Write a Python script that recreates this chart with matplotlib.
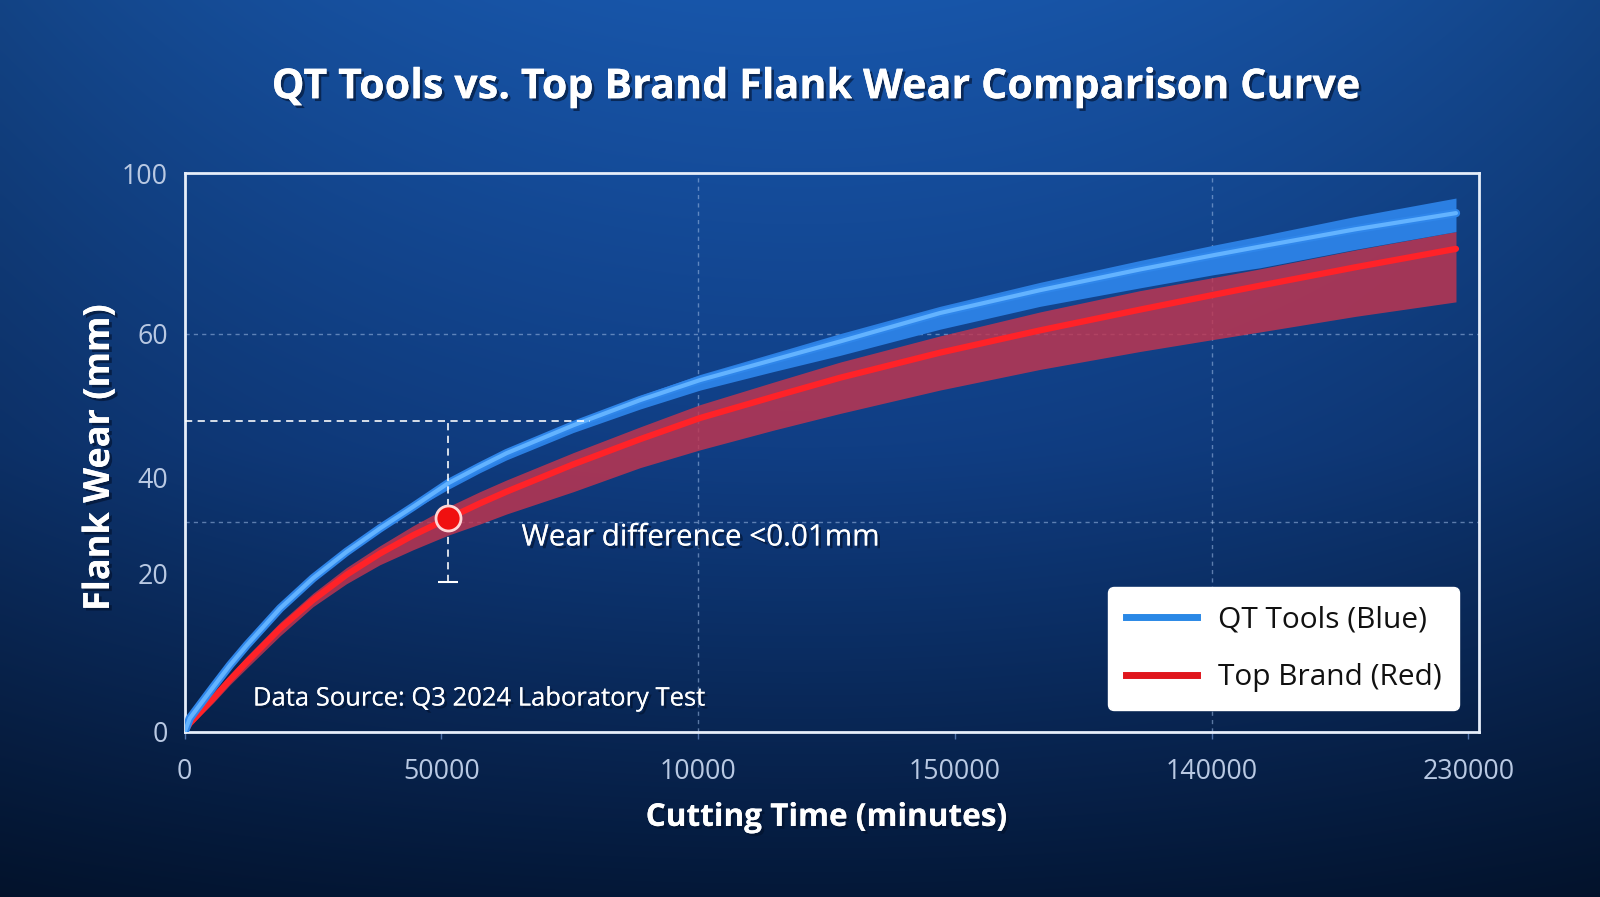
import numpy as np
import matplotlib
matplotlib.use('Agg')
import matplotlib.pyplot as plt
from matplotlib.lines import Line2D
import matplotlib.patheffects as pe

# ---------------- data ----------------
time_min   = [0, 1000, 5600, 8800, 12100, 18600, 25000, 31500, 38000, 44500, 51300, 57500, 62700,
              75700, 88700, 100400, 114600, 127600, 147100, 166600, 186000, 200600, 209400, 228000, 247600]
qt_wear    = [0, 2.4, 8.05, 11.9, 15.5, 22.1, 27.5, 32.2, 36.4, 40.3, 44.5, 47.5, 49.9,
              54.9, 59.4, 63.0, 66.6, 69.9, 75.0, 79.1, 82.8, 85.4, 86.9, 90.0, 92.9]
qt_band_hi = [0, 2.9, 8.6, 12.4, 16.0, 22.6, 28.0, 32.7, 36.9, 40.8, 45.1, 48.2, 50.7,
              55.6, 60.2, 64.0, 67.8, 71.3, 76.2, 80.5, 84.4, 87.2, 88.8, 92.3, 95.6]
qt_band_lo = [0, 1.9, 7.5, 11.4, 15.0, 21.6, 27.0, 31.7, 35.9, 39.8, 43.4, 46.4, 48.7,
              53.6, 57.8, 61.2, 64.5, 67.4, 72.1, 76.2, 79.5, 81.9, 83.1, 86.4, 89.6]
tb_wear    = [0, 1.5, 6.0, 9.3, 12.5, 18.5, 23.6, 28.1, 31.9, 35.2, 38.2, 40.9, 43.0,
              47.9, 52.4, 56.2, 60.0, 63.4, 67.9, 71.9, 75.6, 78.3, 79.9, 83.2, 86.5]
tb_band_hi = [0, 2.0, 6.8, 10.2, 13.5, 19.6, 24.8, 29.4, 33.3, 36.9, 40.3, 43.0, 45.1,
              50.0, 54.6, 58.6, 62.6, 66.2, 70.9, 75.2, 79.0, 81.4, 82.9, 86.3, 89.6]
tb_band_lo = [0, 1.0, 5.2, 8.4, 11.4, 17.2, 22.4, 26.5, 29.9, 32.6, 35.2, 37.2, 39.0,
              43.0, 47.3, 50.5, 54.0, 57.0, 61.2, 64.9, 68.1, 70.3, 71.6, 74.4, 77.0]

x_ticks  = [0, 50000, 100000, 150000, 200000, 250000]
x_labels = ['0', '50000', '10000', '150000', '140000', '230000']
y_ticks  = [0, 28.3, 45.5, 71.3, 100]
y_labels = ['0', '20', '40', '60', '100']
h_grid = [37.5, 71.3]
v_grid = [100000, 200000]

marker_time, marker_wear = 51300, 38.2
ref_level, err_low, ref_end = 55.6, 26.9, 79000

title = 'QT Tools vs. Top Brand Flank Wear Comparison Curve'
xlabel = 'Cutting Time (minutes)'
ylabel = 'Flank Wear (mm)'
note_diff = 'Wear difference <0.01mm'
note_src = 'Data Source: Q3 2024 Laboratory Test'
legend_labels = ['QT Tools (Blue)', 'Top Brand (Red)']

# ---------------- figure ----------------
W, H = 1600, 897
fig = plt.figure(figsize=(W / 100, H / 100), dpi=100)
FONT = 'Open Sans'

# background gradient
bg = fig.add_axes([0, 0, 1, 1], zorder=-10)
ny, nx = 300, 400
t = np.linspace(0, 1, ny)[:, None]
s = np.linspace(-1, 1, nx)[None, :]
top = np.array([24, 86, 170]) / 255
mid = np.array([16, 62, 132]) / 255
bot = np.array([4, 24, 56]) / 255
tt = t[..., None]
col = np.where(tt < 0.5, top + (mid - top) * (tt / 0.5), mid + (bot - mid) * ((tt - 0.5) / 0.5))
col = np.broadcast_to(col, (ny, nx, 3)).copy()
vig = 1 - 0.22 * (s ** 2)
col = col * vig[..., None]
bg.imshow(np.clip(col, 0, 1), aspect='auto', extent=[0, 1, 0, 1], interpolation='bicubic')
bg.set_axis_off()

rw, rh = 1568, 879
ax_left, ax_right = 181 / rw, 1449 / rw
ax_bottom, ax_top = 1 - 717 / rh, 1 - 170 / rh
ax = fig.add_axes([ax_left, ax_bottom, ax_right - ax_left, ax_top - ax_bottom])
ax.set_facecolor('none')
ax.set_xlim(0, 252000)
ax.set_ylim(0, 100)

# grid
for g in h_grid:
    ax.axhline(g, color='#9fbce6', lw=1.0, ls=(0, (3, 3)), alpha=0.55, zorder=1)
for g in v_grid:
    ax.axvline(g, color='#9fbce6', lw=1.0, ls=(0, (3, 3)), alpha=0.55, zorder=1)

# red band + line
ax.fill_between(time_min, tb_band_lo, tb_band_hi, color='#c3354f', alpha=0.82, lw=0, zorder=2)
ax.plot(time_min, tb_wear, color='#ff2228', lw=4.5, solid_capstyle='round', solid_joinstyle='round', zorder=3)
# blue band + lines
ax.fill_between(time_min, qt_band_lo, qt_band_hi, color='#2b7fe2', lw=0, zorder=4)
ax.plot(time_min, qt_wear, color='#2f86ea', lw=6, solid_capstyle='round', solid_joinstyle='round', zorder=5)
ax.plot(time_min, qt_wear, color='#63b3ff', lw=3, solid_capstyle='round', solid_joinstyle='round', zorder=6)

# annotation lines
ax.plot([0, ref_end], [ref_level, ref_level], color='white', lw=1.3, ls=(0, (4, 3)), alpha=0.9, zorder=7)
ax.plot([marker_time, marker_time], [err_low, ref_level], color='white', lw=1.3, ls=(0, (4, 3)), alpha=0.9, zorder=7)
ax.plot([marker_time], [err_low], marker='_', ms=14, mew=1.5, color='white', zorder=7)
ax.plot([marker_time], [marker_wear], marker='o', ms=18, mfc='#f01010', mec='#ffd6d6', mew=2, zorder=8)

# spines / ticks
for sp in ax.spines.values():
    sp.set_color('#e6eefa')
    sp.set_linewidth(2)
ax.set_xticks(x_ticks)
ax.set_xticklabels(x_labels)
ax.set_yticks(y_ticks)
ax.set_yticklabels(y_labels)
ax.tick_params(axis='x', length=5, width=1, color='#4f72aa', pad=14, labelcolor='#b9c9e3')
ax.tick_params(axis='y', length=0, pad=12, labelcolor='#b9c9e3')

shadow = [pe.withSimplePatchShadow(offset=(2, -2), shadow_rgbFace='#02102a', alpha=0.6), pe.Normal()]

t_title = fig.text(800.5 / rw, 1 - 86 / rh, title, ha='center', va='center', color='white',
                   fontsize=28, fontweight='bold', family=FONT, path_effects=shadow)
t_xl = fig.text(810 / rw, 1 - 801 / rh, xlabel, ha='center', va='center', color='white',
                fontsize=20, fontweight='bold', family=FONT, path_effects=shadow)
t_yl = fig.text(98 / rw, 1 - 448 / rh, ylabel, ha='center', va='center', color='white', rotation=90,
                fontsize=20, fontweight='bold', family=FONT, path_effects=shadow)
t_diff = ax.text(65600, 34.7, note_diff, ha='left', va='center', color='white', fontsize=18,
                 family=FONT, fontweight='medium', path_effects=shadow, zorder=9)
t_src = ax.text(13300, 5.85, note_src, ha='left', va='center', color='white', fontsize=16,
                family=FONT, fontweight='medium', path_effects=shadow, zorder=9)

fig.canvas.draw()
r = fig.canvas.get_renderer()
S = W / rw

def fit(txt, target, use_h=False):
    bb = txt.get_window_extent(r)
    cur = bb.height if use_h else bb.width
    txt.set_fontsize(txt.get_fontsize() * target * S / cur)

fit(t_title, 1065)
fit(t_xl, 354)
fit(t_yl, 300, use_h=True)
fit(t_diff, 351)
fit(t_src, 444)

# tick label font
tmp = fig.text(0, 0, '150000', fontsize=16, family=FONT)
fig.canvas.draw()
tick_fs = 16 * 90 * S / tmp.get_window_extent(r).width
tmp.remove()
for lab in ax.get_xticklabels() + ax.get_yticklabels():
    lab.set_family(FONT)
    lab.set_fontsize(tick_fs)

# legend font
tmp = fig.text(0, 0, legend_labels[1], fontsize=20, family=FONT)
fig.canvas.draw()
leg_fs = 20 * 219 * S / tmp.get_window_extent(r).width
tmp.remove()
leg_px = leg_fs * 100 / 72

handles = [Line2D([0], [0], color='#2a88e6', lw=5), Line2D([0], [0], color='#e0161c', lw=5)]
leg = ax.legend(handles, legend_labels, loc='lower right',
                bbox_to_anchor=((1430 - 181) / 1268, (717 - 696) / 547),
                borderaxespad=0, frameon=True, fancybox=True, framealpha=1,
                facecolor='white', edgecolor='white',
                prop={'family': FONT, 'size': leg_fs},
                handlelength=70 * S / leg_px, handletextpad=20 * S / leg_px,
                borderpad=0.6, labelspacing=0.98)
leg.set_zorder(10)
for txt in leg.get_texts():
    txt.set_color('#111111')

fig.savefig('out.png', dpi=100)
